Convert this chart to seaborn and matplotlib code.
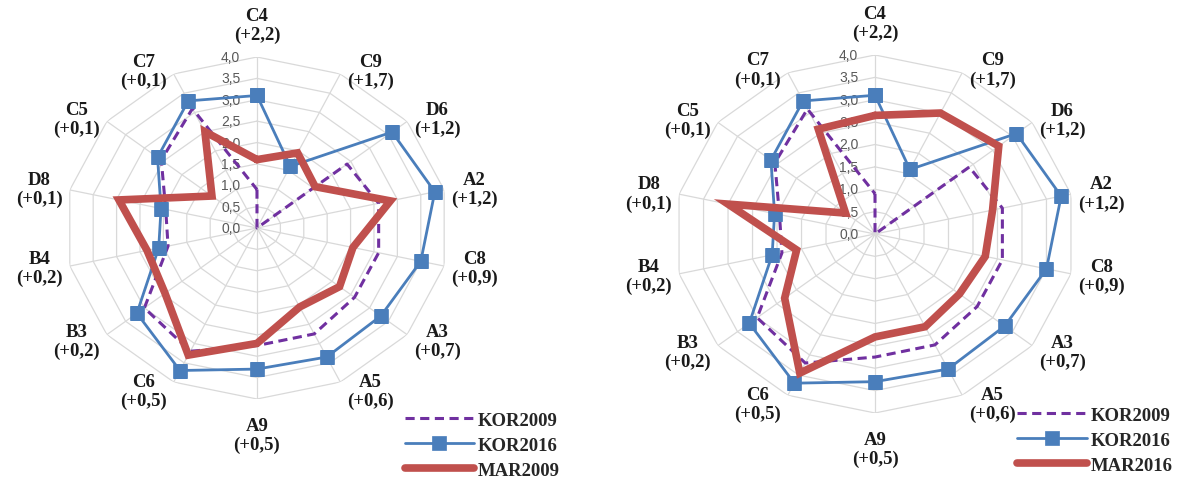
import numpy as np
import matplotlib
matplotlib.use("Agg")
import matplotlib.pyplot as plt
import seaborn as sns

sns.set_style("white")
plt.rcParams["font.family"] = ["Liberation Serif", "DejaVu Serif"]

# radar axes, clockwise from the top
categories = ["C4", "C9", "D6", "A2", "C8", "A3", "A5", "A9", "C6", "B3", "B4", "D8", "C5", "C7"]
gains = ["(+2,2)", "(+1,7)", "(+1,2)", "(+1,2)", "(+0,9)", "(+0,7)", "(+0,6)",
         "(+0,5)", "(+0,5)", "(+0,2)", "(+0,2)", "(+0,1)", "(+0,1)", "(+0,1)"]

kor2009 = [0.9, 0.0, 2.4, 2.6, 2.6, 2.6, 2.75, 2.75, 3.2, 3.0, 1.9, 1.95, 2.55, 3.1]
kor2016 = [3.1, 1.6, 3.6, 3.8, 3.5, 3.3, 3.35, 3.3, 3.7, 3.2, 2.1, 2.05, 2.65, 3.3]
mar2009 = [1.6, 1.95, 1.55, 2.85, 2.05, 2.2, 2.05, 2.7, 3.3, 2.45, 2.35, 2.95, 1.2, 2.5]
mar2016 = [2.65, 3.0, 3.15, 2.4, 2.25, 2.15, 2.3, 2.3, 3.45, 2.3, 1.6, 3.0, 0.75, 2.6]

ticks = [0.0, 0.5, 1.0, 1.5, 2.0, 2.5, 3.0, 3.5, 4.0]
tick_labels = ["0,0", "0,5", "1,0", "1,5", "2,0", "2,5", "3,0", "3,5", "4,0"]

PURPLE = "#7030A0"
BLUE = "#4A7EBB"
RED = "#C0504D"
GRID = "#D9D9D9"

n = len(categories)
theta = np.linspace(0, 2 * np.pi, n, endpoint=False)
theta_c = np.append(theta, 2 * np.pi)


def closed(vals):
    return np.append(vals, vals[0])


def radar(ax, mar_vals):
    ax.set_theta_zero_location("N")
    ax.set_theta_direction(-1)
    ax.set_ylim(0, 4.0)
    ax.set_aspect("auto")
    ax.grid(False)
    ax.spines["polar"].set_visible(False)
    ax.set_xticks([])
    ax.set_yticks([])
    ax.patch.set_alpha(0)

    # polygon web
    for v in ticks[1:]:
        ax.plot(theta_c, [v] * (n + 1), color=GRID, lw=0.9, zorder=1)
    for t in theta:
        ax.plot([t, t], [0, 4.0], color=GRID, lw=0.9, zorder=1)

    for v, lab in zip(ticks, tick_labels):
        ax.annotate(lab, xy=(0, v), xytext=(-12, 0), textcoords="offset points",
                    ha="right", va="center", fontsize=10, color="#595959",
                    family="Liberation Sans", zorder=1.5)

    handles = []
    sns.lineplot(x=theta_c, y=closed(kor2009), ax=ax, sort=False, color=PURPLE,
                 lw=2.2, linestyle=(0, (3, 1.8)), zorder=3)
    handles.append(ax.lines[-1])
    sns.lineplot(x=theta_c, y=closed(kor2016), ax=ax, sort=False, color=BLUE,
                 lw=2.0, marker="s", markersize=10, markeredgecolor=BLUE,
                 markeredgewidth=0.5, zorder=4)
    handles.append(ax.lines[-1])
    sns.lineplot(x=theta_c, y=closed(mar_vals), ax=ax, sort=False, color=RED,
                 lw=5.5, solid_joinstyle="miter", zorder=5)
    handles.append(ax.lines[-1])
    ax.set_xlabel("")
    ax.set_ylabel("")

    # category labels around the web
    for t, cat, g in zip(theta, categories, gains):
        s, c = np.sin(t), np.cos(t)
        if abs(s) < 0.1:
            ha = "center"
            va = "bottom" if c > 0 else "top"
            off = (0, 10) if c > 0 else (0, -13)
        else:
            ha = "left" if s > 0 else "right"
            va = "center"
            dy = 2.5 * c if c > 0 else 7 * c
            off = (5 * np.sign(s), dy)
        ax.annotate(cat + "\n" + g, xy=(t, 4.0), xytext=off, textcoords="offset points",
                    ha=ha, va=va, multialignment="center", fontsize=13.5,
                    fontweight="bold", color="#1a1a1a", linespacing=1.15,
                    annotation_clip=False, zorder=6)
    return handles


fig = plt.figure(figsize=(11.9, 4.81), dpi=100)
ax1 = fig.add_axes([0.0546, 0.1684, 0.3227, 0.7110], projection="polar")
ax2 = fig.add_axes([0.5664, 0.1393, 0.3378, 0.7443], projection="polar")

h1 = radar(ax1, mar2009)
h2 = radar(ax2, mar2016)

leg_kw = dict(loc="upper left", frameon=False, handlelength=3.7, handletextpad=0.2,
              labelspacing=0.42, borderpad=0, borderaxespad=0,
              prop={"family": "Liberation Serif", "weight": "bold", "size": 13.5})
fig.legend(h1, ["KOR2009", "KOR2016", "MAR2009"], bbox_to_anchor=(0.340, 0.142), **leg_kw)
fig.legend(h2, ["KOR2009", "KOR2016", "MAR2016"], bbox_to_anchor=(0.855, 0.152), **leg_kw)

fig.savefig("out.png", dpi=100)
